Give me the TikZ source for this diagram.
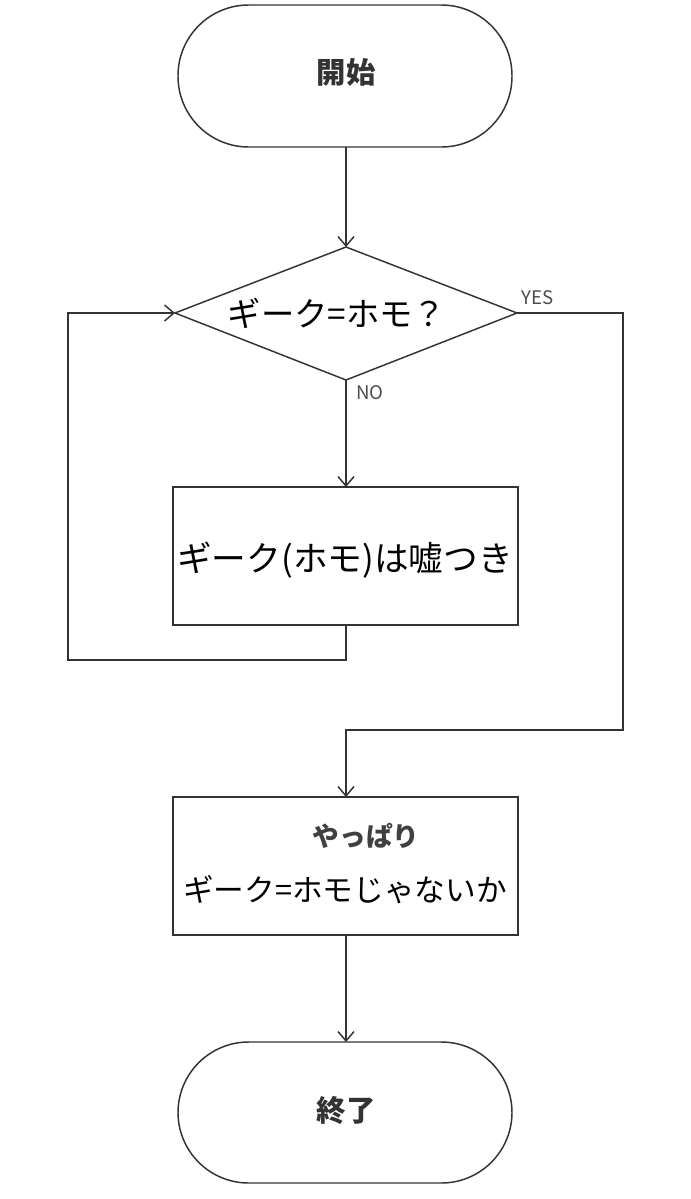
\documentclass[tikz,border=0pt]{standalone}
\usepackage{fontspec}
\setmainfont{Noto Sans CJK JP}
\usetikzlibrary{arrows.meta}
\begin{document}
\begin{tikzpicture}[x=0.75pt,y=-0.75pt,
  ln/.style={draw=black!80,line width=1.1pt},
  arr/.style={ln,-{Straight Barb[length=7pt,width=12pt]}},
  term/.style={ln,rounded corners=53pt},
  lbl/.style={font=\fontsize{14pt}{16pt}\selectfont,text=black!70}]
\useasboundingbox[fill=white] (0,0) rectangle (690,1199);
% start
\draw[term] (178,5) rectangle (512,147);
\node[font=\fontsize{22pt}{24pt}\selectfont\bfseries,text=black!80] (s) at (346,72) {開始};
\coordinate (sb) at (346,147);
% diamond
\draw[ln] (175,313) -- (346,247) -- (517,313) -- (346,380) -- cycle;
\coordinate (dt) at (346,247); \coordinate (db) at (346,380);
\coordinate (dl) at (175,313); \coordinate (dr) at (517,313);
\node[font=\fontsize{25pt}{27pt}\selectfont] (d) at (337,313) {ギーク=ホモ？};
% box1
\draw[ln] (173,487) rectangle (518,625);
\coordinate (b1t) at (346,487); \coordinate (b1b) at (346,625);
\node[font=\fontsize{26pt}{28pt}\selectfont] (b1) at (345,560) {ギーク(ホモ)は嘘つき};
% box2
\draw[ln] (173,797) rectangle (518,935);
\coordinate (b2t) at (346,797); \coordinate (b2b) at (346,935);
\node[font=\fontsize{20pt}{22pt}\selectfont\bfseries,text=black!75] (b2a) at (366,836) {やっぱり};
\node[font=\fontsize{23pt}{25pt}\selectfont] (b2b2) at (345,890) {ギーク=ホモじゃないか};
% end
\draw[term] (178,1042) rectangle (512,1183);
\coordinate (et) at (346,1042);
\node[font=\fontsize{22pt}{24pt}\selectfont\bfseries,text=black!80] (e) at (346,1110) {終了};
% connectors
\draw[arr] (sb) -- (dt);
\draw[arr] (db) -- (b1t);
\draw[arr] (b1b) -- (346,660) -- (68,660) -- (68,313) -- (dl);
\draw[arr] (dr) -- (623,313) -- (623,730) -- (346,730) -- (b2t);
\draw[arr] (b2b) -- (et);
\node[lbl] (no) at (370,393) {NO};
\node[lbl] (yes) at (538,298) {YES};
\end{tikzpicture}
\end{document}
